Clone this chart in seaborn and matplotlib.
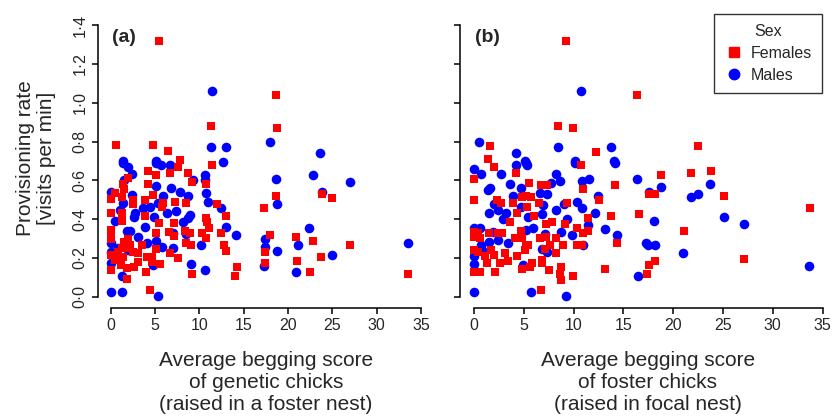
import matplotlib
matplotlib.use("Agg")
import matplotlib.pyplot as plt
from matplotlib.lines import Line2D
import seaborn as sns
import pandas as pd

# panel (a): begging of genetic chicks raised in a foster nest
fem_a_x = [5.44, 11.36, 0.56, 4.73, 6.45, 7.8, 18.68, 18.79, 7.54, 11.48, 4.2, 5.06, 6.67, 8.67,
           1.91, 1.38, 1.53, 9.15, 4.16, 10.8, 0.48, 1.24, 4.73, 0.0, 2.54, 2.54, 3.86, 7.24,
           5.85, 8.55, 12.04, 5.74, 1.24, 0.0, 3.86, 12.97, 10.72, 1.31, 5.44, 7.12, 10.84, 11.1,
           0.0, 5.06, 6.56, 8.36, 8.92, 10.31, 12.41, 0.0, 7.12, 10.72, 0.0, 1.98, 1.53, 8.55,
           9.04, 12.75, 2.17, 3.49, 1.24, 1.8, 5.06, 13.05, 0.86, 2.54, 3.1, 6.67, 0.0, 4.05,
           4.68, 7.61, 0.48, 1.42, 3.1, 4.61, 5.55, 1.16, 2.66, 14.29, 1.87, 0.0, 3.97, 9.23,
           14.07, 1.8, 4.42, 18.68, 23.86, 24.98, 17.25, 18.0, 20.93, 22.84, 27.0, 17.44, 23.67,
           21.04, 17.44, 22.43, 33.54]
fem_a_y = [1.32, 0.88, 0.78, 0.78, 0.75, 0.705, 1.04, 0.87, 0.67, 0.68, 0.65, 0.63, 0.64, 0.64,
           0.61, 0.58, 0.555, 0.59, 0.58, 0.58, 0.533, 0.513, 0.525, 0.503, 0.50, 0.478, 0.50, 0.49,
           0.482, 0.482, 0.478, 0.461, 0.433, 0.43, 0.418, 0.418, 0.408, 0.391, 0.379, 0.379, 0.387, 0.356,
           0.344, 0.33, 0.336, 0.341, 0.33, 0.33, 0.33, 0.313, 0.313, 0.301, 0.296, 0.296, 0.284, 0.279,
           0.267, 0.267, 0.267, 0.267, 0.25, 0.25, 0.245, 0.238, 0.233, 0.233, 0.224, 0.227, 0.215, 0.204,
           0.204, 0.198, 0.19, 0.207, 0.181, 0.181, 0.168, 0.164, 0.155, 0.155, 0.147, 0.138, 0.129, 0.118,
           0.107, 0.09, 0.035, 0.52, 0.53, 0.511, 0.459, 0.319, 0.308, 0.289, 0.267, 0.229, 0.207,
           0.186, 0.176, 0.129, 0.119]
male_a_x = [11.48, 11.29, 12.98, 1.38, 5.1, 12.7, 1.42, 1.98, 5.1, 5.73, 6.67, 2.43, 1.53, 10.61,
            10.61, 9.3, 5.1, 6.79, 7.8, 0.0, 10.8, 2.36, 5.85, 8.73, 10.98, 1.42, 5.36, 3.67,
            4.42, 1.05, 2.73, 12.41, 6.41, 7.35, 8.92, 2.66, 4.91, 8.73, 0.48, 8.17, 3.86, 13.05,
            14.18, 1.8, 2.17, 7.05, 8.55, 3.1, 4.05, 5.1, 10.24, 0.0, 0.86, 1.98, 5.74, 7.05,
            0.0, 4.8, 0.0, 9.11, 10.61, 1.24, 0.0, 1.24, 5.36, 23.63, 18.0, 18.64, 22.8, 26.97,
            23.86, 18.8, 22.35, 17.36, 17.36, 21.1, 33.57, 18.71, 24.98, 17.29, 20.93]
male_a_y = [1.062, 0.772, 0.772, 0.70, 0.70, 0.695, 0.688, 0.671, 0.688, 0.679, 0.679, 0.633, 0.602, 0.628,
            0.602, 0.602, 0.571, 0.559, 0.542, 0.542, 0.533, 0.525, 0.52, 0.52, 0.49, 0.482, 0.482, 0.456,
            0.461, 0.447, 0.433, 0.456, 0.43, 0.444, 0.421, 0.413, 0.413, 0.408, 0.392, 0.387, 0.358, 0.358,
            0.319, 0.341, 0.341, 0.327, 0.322, 0.307, 0.279, 0.289, 0.267, 0.276, 0.25, 0.241, 0.255, 0.25,
            0.233, 0.164, 0.173, 0.168, 0.138, 0.107, 0.026, 0.026, 0.006, 0.74, 0.80, 0.607, 0.63, 0.59,
            0.539, 0.478, 0.356, 0.298, 0.258, 0.267, 0.277, 0.238, 0.217, 0.159, 0.128]

# panel (b): begging of foster chicks raised in the focal nest
fem_b_x = [9.2, 16.33, 8.4, 9.91, 1.6, 12.22, 1.37, 22.49, 2.0, 4.22, 10.71, 0.03, 5.52, 6.73,
           7.33, 10.91, 14.16, 4.79, 5.22, 5.72, 0.03, 12.55, 2.34, 2.68, 3.88, 6.53, 9.3, 5.29,
           4.28, 13.72, 6.02, 11.48, 3.61, 7.23, 7.86, 9.14, 10.31, 11.41, 0.03, 0.43, 1.51, 2.38,
           2.84, 4.72, 10.98, 0.03, 0.6, 4.12, 4.79, 6.63, 8.23, 7.23, 14.33, 10.31, 10.81, 8.9,
           7.63, 5.22, 5.45, 0.03, 0.43, 1.67, 3.11, 5.12, 7.13, 8.2, 2.04, 4.28, 1.1, 3.38,
           2.61, 1.27, 6.79, 6.86, 5.79, 5.62, 4.85, 8.73, 7.53, 13.15, 0.03, 0.6, 2.11, 8.63,
           9.91, 8.7, 6.73, 16.6, 18.74, 21.75, 23.76, 17.6, 18.17, 25.1, 33.73, 21.08, 18.17,
           17.57, 17.34, 27.11]
fem_b_y = [1.32, 1.04, 0.882, 0.872, 0.779, 0.748, 0.709, 0.779, 0.671, 0.64, 0.679, 0.607, 0.588, 0.576,
           0.576, 0.556, 0.576, 0.513, 0.52, 0.513, 0.499, 0.499, 0.499, 0.482, 0.482, 0.482, 0.482, 0.461,
           0.43, 0.416, 0.416, 0.408, 0.387, 0.375, 0.387, 0.375, 0.356, 0.341, 0.336, 0.327, 0.33, 0.33,
           0.327, 0.341, 0.327, 0.307, 0.301, 0.301, 0.301, 0.301, 0.301, 0.307, 0.279, 0.267, 0.267, 0.267,
           0.267, 0.267, 0.267, 0.241, 0.233, 0.241, 0.227, 0.241, 0.245, 0.227, 0.215, 0.21, 0.21, 0.186,
           0.176, 0.173, 0.19, 0.173, 0.176, 0.152, 0.143, 0.155, 0.138, 0.145, 0.129, 0.129, 0.129, 0.118,
           0.107, 0.087, 0.035, 0.427, 0.63, 0.64, 0.65, 0.53, 0.53, 0.52, 0.459, 0.339, 0.186,
           0.164, 0.118, 0.195]
male_b_x = [10.71, 0.5, 4.22, 8.47, 13.72, 5.12, 10.14, 14.09, 0.03, 0.7, 2.71, 4.18, 5.22, 5.35,
            10.14, 14.16, 3.61, 4.72, 7.73, 8.63, 8.23, 10.87, 11.55, 16.33, 1.44, 1.6, 6.63, 7.3,
            3.95, 12.48, 2.04, 6.89, 9.07, 10.37, 10.87, 4.72, 8.23, 2.38, 3.18, 1.51, 6.79, 12.15,
            2.88, 5.45, 9.37, 11.41, 13.15, 5.96, 0.03, 0.6, 1.94, 5.19, 14.33, 7.13, 8.73, 9.87,
            3.38, 1.51, 2.44, 10.98, 0.7, 0.77, 6.86, 7.3, 0.03, 0.03, 4.95, 16.5, 0.03, 5.72,
            9.24, 18.78, 17.6, 21.79, 22.49, 23.69, 18.1, 25.1, 27.11, 17.27, 17.5, 18.17, 21.02, 33.67]
male_b_y = [1.062, 0.80, 0.74, 0.77, 0.77, 0.70, 0.70, 0.70, 0.659, 0.631, 0.631, 0.679, 0.688, 0.679,
            0.688, 0.688, 0.58, 0.562, 0.588, 0.597, 0.631, 0.597, 0.607, 0.607, 0.551, 0.562, 0.537, 0.528,
            0.52, 0.52, 0.477, 0.473, 0.478, 0.49, 0.459, 0.464, 0.447, 0.447, 0.43, 0.43, 0.425, 0.43,
            0.40, 0.41, 0.40, 0.37, 0.348, 0.356, 0.356, 0.353, 0.336, 0.344, 0.319, 0.322, 0.336, 0.319,
            0.279, 0.284, 0.293, 0.267, 0.267, 0.241, 0.245, 0.233, 0.21, 0.169, 0.164, 0.107, 0.026, 0.026,
            0.006, 0.568, 0.542, 0.516, 0.528, 0.58, 0.389, 0.41, 0.377, 0.279, 0.267, 0.267, 0.227, 0.157]

x_ticks = [0, 5, 10, 15, 20, 25, 30, 35]
y_ticks = [0.0, 0.2, 0.4, 0.6, 0.8, 1.0, 1.2, 1.4]
y_tick_labels = ["0·0", "0·2", "0·4", "0·6", "0·8", "1·0", "1·2", "1·4"]
xlabels = ["Average begging score\nof genetic chicks\n(raised in a foster nest)",
           "Average begging score\nof foster chicks\n(raised in focal nest)"]

sns.set_style("ticks")
plt.rcParams['font.family'] = ['Liberation Sans', 'DejaVu Sans']

palette = {"Females": "#ff0000", "Males": "#0000ff"}
markers = {"Females": "s", "Males": "o"}
sizes = {"Females": 34, "Males": 48}


def make_df(fx, fy, mx, my):
    # males first so the red squares sit on top
    return pd.DataFrame({
        "score": mx + fx,
        "rate": my + fy,
        "Sex": ["Males"] * len(mx) + ["Females"] * len(fx),
    })


fig = plt.figure(figsize=(8.33, 4.18), dpi=100)
W, H = 833, 418
ax_a = fig.add_axes([98.2 / W, 1 - 307.7 / H, 335.3 / W, 293.4 / H])
ax_b = fig.add_axes([460.1 / W, 1 - 307.7 / H, 376.4 / W, 293.4 / H])

panels = [
    (ax_a, make_df(fem_a_x, fem_a_y, male_a_x, male_a_y), "(a)"),
    (ax_b, make_df(fem_b_x, fem_b_y, male_b_x, male_b_y), "(b)"),
]

for i, (ax, df, tag) in enumerate(panels):
    for sex in ["Males", "Females"]:
        sub = df[df["Sex"] == sex]
        sns.scatterplot(data=sub, x="score", y="rate", ax=ax, color=palette[sex],
                        marker=markers[sex], s=sizes[sex], linewidth=0, legend=False,
                        clip_on=False)
    ax.set_xlim(-1.4, 36.4)
    ax.set_ylim(-0.056, 1.456)
    ax.set_xlabel("")
    ax.set_ylabel("")
    ax.spines["top"].set_visible(False)
    ax.spines["right"].set_visible(False)
    ax.spines["left"].set_bounds(0, 1.4)
    ax.spines["bottom"].set_bounds(0, 35)
    for sp in ["left", "bottom"]:
        ax.spines[sp].set_linewidth(1.1)
        ax.spines[sp].set_color("black")
    ax.set_xticks(x_ticks)
    ax.set_xticklabels([str(t) for t in x_ticks], fontsize=11.5)
    ax.set_yticks(y_ticks)
    if i == 0:
        ax.set_yticklabels(y_tick_labels, rotation=90, va="center", fontsize=11.5)
    else:
        ax.set_yticklabels([])
    ax.tick_params(direction="out", length=4.5, width=1.1, color="black", pad=3)
    ax.text(0.04, 0.92, tag, transform=ax.transAxes, fontsize=14, fontweight="bold",
            ha="left", va="center")

# x labels centred under each axis
fig.text(266 / W, 1 - 382 / H, xlabels[0], ha="center", va="center", fontsize=15,
         linespacing=1.2)
fig.text(648 / W, 1 - 382 / H, xlabels[1], ha="center", va="center", fontsize=15,
         linespacing=1.2)
fig.text(36 / W, 1 - 158 / H, "Provisioning rate\n[visits per min]", rotation=90,
         ha="center", va="center", fontsize=15, linespacing=1.15)

handles = [
    Line2D([], [], marker="s", color=palette["Females"], linestyle="", markersize=6.5),
    Line2D([], [], marker="o", color=palette["Males"], linestyle="", markersize=7.5),
]
leg = fig.legend(handles, ["Females", "Males"], title="Sex", loc="upper right",
                 bbox_to_anchor=(822 / W, 1 - 14 / H), borderaxespad=0, fontsize=11.5,
                 title_fontsize=11.5, frameon=True, fancybox=False, edgecolor="black",
                 handletextpad=0.5, handlelength=1.2, borderpad=0.6, labelspacing=0.45)
leg.get_frame().set_linewidth(1.0)

fig.savefig("out.png", dpi=100)
